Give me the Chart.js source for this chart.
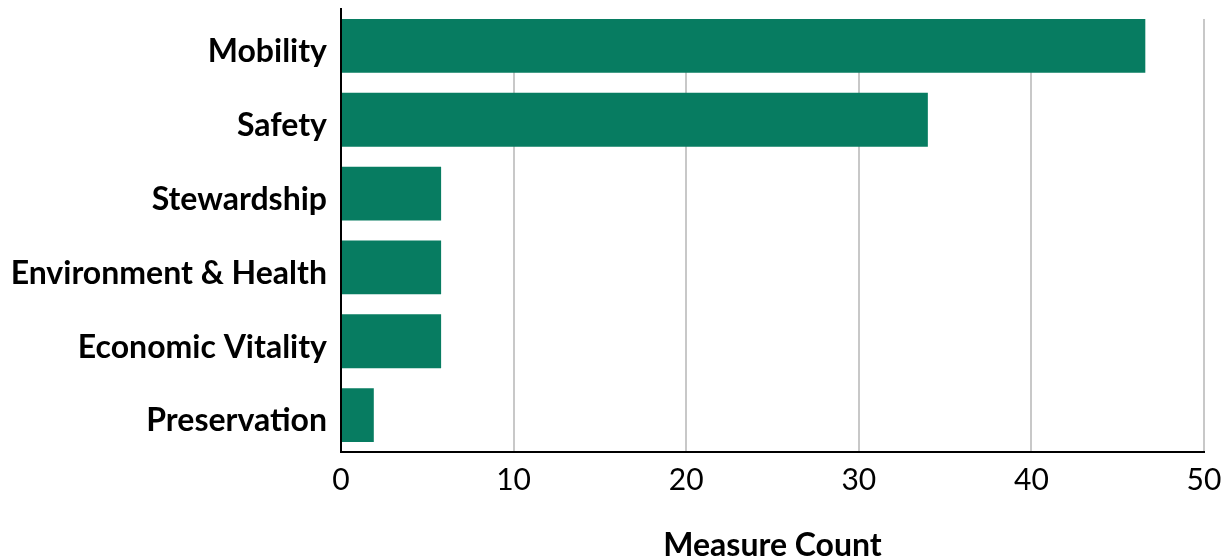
<!DOCTYPE html>
<html>
<head>
<meta charset="utf-8">
<script src="https://cdn.jsdelivr.net/npm/chart.js@4/dist/chart.umd.min.js"></script>
<style>
    html, body { margin: 0; padding: 0; background: #fff; }
    #wrap { width: 1228px; height: 559px; position: relative; }
</style>
</head>
<body>
<div id="wrap"><canvas id="measureChart"></canvas></div>
<script>
    // Values
    const categories = ['Mobility', 'Safety', 'Stewardship', 'Environment & Health', 'Economic Vitality', 'Preservation'];
    const measureCounts = [46.6, 34, 5.8, 5.8, 5.8, 1.9];
    const xTickValues = [0, 10, 20, 30, 40, 50];

    const BAR_GREEN = '#077c61';
    const GRID_GREY = '#c8c8c8';

    // gridlines in the original stop at the top of the first bar
    const gridTopTrim = {
        id: 'gridTopTrim',
        beforeDatasetsDraw(chart) {
            const bar = chart.getDatasetMeta(0).data[0];
            if (!bar) return;
            const area = chart.chartArea;
            const top = bar.y - bar.height / 2;
            const c = chart.ctx;
            c.save();
            c.fillStyle = '#fff';
            c.fillRect(area.left + 1, area.top - 1, area.right - area.left + 2, top - area.top + 1);
            c.restore();
        }
    };

    const ctx = document.getElementById('measureChart');

    new Chart(ctx, {
        type: 'bar',
        data: {
            labels: categories,
            datasets: [{
                label: 'Measure Count',
                data: measureCounts,
                backgroundColor: BAR_GREEN,
                borderWidth: 0,
                barPercentage: 0.73,
                categoryPercentage: 1
            }]
        },
        options: {
            indexAxis: 'y',
            responsive: true,
            maintainAspectRatio: false,
            animation: false,
            layout: { padding: { top: 9, right: 24, bottom: 0, left: 0 } },
            plugins: {
                legend: { display: false },
                tooltip: { enabled: false }
            },
            scales: {
                x: {
                    min: 0,
                    max: 50,
                    afterBuildTicks: axis => { axis.ticks = xTickValues.map(v => ({ value: v })); },
                    afterFit: axis => {
                        axis.height = 107;
                        axis.paddingLeft = 0;
                        axis.paddingRight = 0;
                    },
                    grid: { color: GRID_GREY, lineWidth: 2, drawTicks: false },
                    border: { display: true, color: '#000', width: 2 },
                    ticks: {
                        padding: 10,
                        color: '#000',
                        font: { family: 'Lato', size: 30, weight: 'normal' }
                    },
                    title: {
                        display: true,
                        text: 'Measure Count',
                        color: '#000',
                        padding: { top: 0, bottom: -3 },
                        font: { family: 'Lato', size: 32, weight: 'bold', lineHeight: 1 }
                    }
                },
                y: {
                    afterFit: axis => {
                        axis.width = 341;
                        axis.paddingTop = 0;
                        axis.paddingBottom = 0;
                    },
                    grid: { display: false, drawTicks: false },
                    border: { display: true, color: '#000', width: 2 },
                    ticks: {
                        padding: 14,
                        color: '#000',
                        // empty first line nudges each label a few px below the bar centre, as in the original
                        callback: function(value) { return ['', this.getLabelForValue(value)]; },
                        font: { family: 'Lato', size: 32, weight: 'bold', lineHeight: '12px' }
                    }
                }
            }
        },
        plugins: [gridTopTrim]
    });
</script>
</body>
</html>
